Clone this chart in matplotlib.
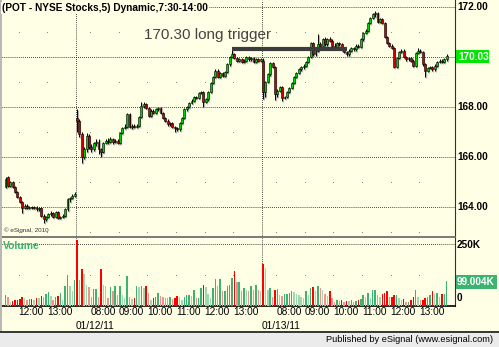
import numpy as np
import matplotlib
matplotlib.use('Agg')
import matplotlib.pyplot as plt
from matplotlib.patches import Rectangle

plt.rc('font', family='Liberation Sans')

# 5 minute bars, 11:30-14:00 on 01/11, full sessions 7:30-14:00 on 01/12 and 01/13
d1_open = [164.80, 165.20, 164.85, 165.00, 164.80, 164.60, 164.40, 164.20, 163.95, 164.05,
           163.95, 164.00, 163.95, 164.00, 163.90, 163.95, 163.65, 163.50, 163.60, 163.70,
           163.75, 163.60, 163.80, 163.55, 163.60, 163.65, 163.90, 164.30, 164.35, 164.45]
d1_high = [165.20, 165.25, 165.05, 165.05, 164.85, 164.65, 164.45, 164.25, 164.10, 164.10,
           164.05, 164.05, 164.05, 164.05, 164.00, 164.00, 163.70, 163.65, 163.75, 163.85,
           163.80, 163.85, 163.85, 163.65, 163.70, 163.95, 164.35, 164.40, 164.50, 164.60]
d1_low = [164.75, 164.80, 164.80, 164.75, 164.55, 164.35, 164.15, 163.75, 163.90, 163.90,
          163.90, 163.90, 163.90, 163.85, 163.85, 163.60, 163.35, 163.45, 163.55, 163.65,
          163.55, 163.55, 163.50, 163.50, 163.55, 163.60, 163.85, 164.20, 164.30, 164.40]
d1_close = [165.10, 164.85, 165.00, 164.80, 164.60, 164.40, 164.20, 163.95, 164.05, 163.95,
            164.00, 163.95, 164.00, 163.90, 163.95, 163.65, 163.50, 163.60, 163.70, 163.75,
            163.60, 163.80, 163.55, 163.60, 163.65, 163.90, 164.30, 164.35, 164.45, 164.50]

d2_open = [167.55, 167.45, 166.90, 166.00, 166.30, 166.85, 166.40, 166.30, 166.55, 166.60,
           166.30, 166.20, 166.55, 166.65, 166.60, 166.70, 166.60, 166.65, 166.55, 166.95,
           167.15, 167.20, 167.70, 167.20, 167.25, 167.20, 167.25, 167.60, 168.05, 168.10,
           167.95, 167.65, 167.85, 167.75, 167.90, 167.95, 167.75, 167.55, 167.45, 167.30,
           167.35, 167.20, 167.15, 167.10, 167.35, 167.55, 167.90, 168.00, 168.15, 168.25,
           168.40, 168.35, 168.55, 168.60, 168.20, 168.30, 168.60, 168.95, 169.20, 169.45,
           169.20, 169.35, 169.25, 169.40, 169.70, 170.00, 170.10, 169.95, 169.85, 169.90,
           169.80, 169.85, 170.00, 169.90, 169.95, 169.80, 169.90, 169.85]
d2_high = [167.90, 167.50, 167.00, 166.40, 166.95, 166.90, 166.50, 166.60, 166.70, 166.70,
           166.35, 166.60, 166.70, 166.75, 166.80, 166.75, 166.70, 166.70, 167.00, 167.20,
           167.30, 167.75, 167.75, 167.30, 167.30, 167.30, 167.65, 168.20, 168.20, 168.15,
           168.00, 167.90, 167.90, 167.95, 168.00, 168.00, 167.80, 167.60, 167.50, 167.40,
           167.40, 167.25, 167.20, 167.40, 167.60, 167.95, 168.05, 168.20, 168.30, 168.45,
           168.45, 168.60, 168.65, 168.65, 168.35, 168.65, 169.00, 169.25, 169.50, 169.50,
           169.40, 169.40, 169.45, 169.75, 170.05, 170.27, 170.15, 170.00, 169.95, 169.95,
           169.90, 170.05, 170.05, 170.00, 170.00, 169.95, 169.95, 169.95]
d2_low = [167.00, 166.80, 165.75, 165.90, 166.20, 166.30, 166.20, 166.25, 166.45, 166.10,
          166.00, 166.15, 166.50, 166.50, 166.55, 166.50, 166.55, 166.50, 166.50, 166.90,
          167.10, 167.15, 167.15, 167.10, 167.15, 167.15, 167.20, 167.55, 167.95, 167.90,
          167.60, 167.60, 167.70, 167.70, 167.85, 167.70, 167.50, 167.40, 167.25, 167.25,
          167.15, 167.00, 167.05, 167.05, 167.30, 167.50, 167.85, 167.95, 168.10, 168.20,
          168.30, 168.30, 168.50, 168.00, 168.15, 168.25, 168.55, 168.90, 169.15, 169.15,
          169.15, 169.20, 169.20, 169.35, 169.65, 169.95, 169.90, 169.80, 169.80, 169.75,
          169.75, 169.80, 169.85, 169.85, 169.75, 169.75, 169.80, 169.80]
d2_close = [167.45, 166.90, 166.00, 166.30, 166.85, 166.40, 166.30, 166.55, 166.60, 166.30,
            166.20, 166.55, 166.65, 166.60, 166.70, 166.60, 166.65, 166.55, 166.95, 167.15,
            167.20, 167.70, 167.20, 167.25, 167.20, 167.25, 167.60, 168.05, 168.10, 167.95,
            167.65, 167.85, 167.75, 167.90, 167.95, 167.75, 167.55, 167.45, 167.30, 167.35,
            167.20, 167.15, 167.10, 167.35, 167.55, 167.90, 168.00, 168.15, 168.25, 168.40,
            168.35, 168.55, 168.60, 168.20, 168.30, 168.60, 168.95, 169.20, 169.45, 169.20,
            169.35, 169.25, 169.40, 169.70, 170.00, 170.10, 169.95, 169.85, 169.90, 169.80,
            169.85, 170.00, 169.90, 169.95, 169.80, 169.90, 169.85, 169.90]

d3_open = [169.85, 168.60, 169.00, 169.30, 169.75, 169.60, 168.50, 168.65, 168.80, 168.35,
           168.40, 168.60, 168.75, 168.95, 169.20, 169.35, 169.50, 169.60, 169.65, 169.80,
           170.00, 170.55, 170.10, 170.25, 170.50, 170.45, 170.70, 170.50, 170.70, 170.65,
           170.45, 170.40, 170.55, 170.50, 170.30, 170.20, 170.10, 170.25, 170.35, 170.30,
           170.45, 170.40, 170.70, 170.95, 171.05, 171.35, 171.55, 171.70, 171.75, 171.40,
           171.50, 171.35, 170.80, 170.55, 170.45, 170.35, 169.60, 169.95, 170.20, 170.25,
           170.00, 169.90, 169.95, 169.85, 169.65, 170.15, 170.25, 170.20, 169.70, 169.45,
           169.55, 169.60, 169.50, 169.65, 169.80, 169.85, 169.80, 169.90]
d3_high = [169.95, 169.05, 169.35, 169.80, 169.80, 169.65, 168.70, 168.85, 168.85, 168.45,
           168.65, 168.80, 169.00, 169.25, 169.40, 169.55, 169.65, 169.70, 169.85, 170.05,
           170.60, 170.60, 170.30, 170.90, 170.60, 170.75, 170.80, 170.75, 170.80, 170.70,
           170.55, 170.60, 170.60, 170.55, 170.35, 170.25, 170.30, 170.40, 170.40, 170.50,
           170.50, 170.75, 171.00, 171.10, 171.40, 171.60, 171.75, 171.85, 171.80, 171.55,
           171.55, 171.40, 170.85, 170.60, 170.50, 170.40, 170.00, 170.25, 170.30, 170.30,
           170.05, 170.00, 170.00, 169.90, 170.20, 170.35, 170.30, 170.25, 169.75, 169.60,
           169.65, 169.65, 169.70, 169.85, 169.90, 169.90, 169.95, 170.10]
d3_low = [168.30, 168.40, 168.95, 169.25, 169.55, 168.28, 168.40, 168.60, 168.25, 168.30,
          168.35, 168.55, 168.70, 168.90, 169.15, 169.30, 169.45, 169.50, 169.60, 169.75,
          169.95, 170.05, 170.05, 170.20, 170.40, 170.40, 170.45, 170.45, 170.60, 170.40,
          170.35, 170.35, 170.45, 170.25, 170.15, 170.05, 170.05, 170.20, 170.25, 170.25,
          170.35, 170.35, 170.65, 170.90, 171.00, 171.30, 171.50, 171.60, 171.35, 171.35,
          171.30, 170.75, 170.50, 170.40, 170.30, 169.55, 169.55, 169.90, 170.15, 169.95,
          169.85, 169.85, 169.80, 169.60, 169.60, 170.10, 170.15, 169.65, 169.20, 169.40,
          169.50, 169.45, 169.45, 169.60, 169.75, 169.75, 169.75, 169.85]
d3_close = [168.60, 169.00, 169.30, 169.75, 169.60, 168.50, 168.65, 168.80, 168.35, 168.40,
            168.60, 168.75, 168.95, 169.20, 169.35, 169.50, 169.60, 169.65, 169.80, 170.00,
            170.55, 170.10, 170.25, 170.50, 170.45, 170.70, 170.50, 170.70, 170.65, 170.45,
            170.40, 170.55, 170.50, 170.30, 170.20, 170.10, 170.25, 170.35, 170.30, 170.45,
            170.40, 170.70, 170.95, 171.05, 171.35, 171.55, 171.70, 171.75, 171.40, 171.50,
            171.35, 170.80, 170.55, 170.45, 170.35, 169.60, 169.95, 170.20, 170.25, 170.00,
            169.90, 169.95, 169.85, 169.65, 170.15, 170.25, 170.20, 169.70, 169.45, 169.55,
            169.60, 169.50, 169.65, 169.80, 169.85, 169.80, 169.90, 170.03]

# volume in thousands
d1_vol = [45, 38, 18, 20, 23, 25, 29, 38, 31, 25, 27, 29, 25, 34, 31, 42, 38, 48, 55, 42,
          25, 38, 42, 52, 25, 80, 123, 80, 59, 103]
d2_vol = [264, 103, 148, 130, 86, 77, 36, 70, 70, 38, 148, 86, 79, 32, 75, 59, 80, 45, 79, 45,
          32, 121, 38, 29, 33, 79, 75, 79, 73, 79, 52, 25, 34, 36, 52, 41, 38, 34, 32, 38,
          29, 32, 41, 37, 25, 38, 45, 45, 42, 66, 32, 34, 73, 86, 75, 48, 32, 73, 110, 79,
          107, 59, 59, 79, 86, 114, 141, 96, 96, 59, 73, 66, 59, 79, 66, 86, 66, 60]
d3_vol = [168, 155, 66, 73, 38, 66, 68, 45, 42, 48, 48, 52, 59, 56, 49, 45, 38, 34, 62, 45,
          73, 75, 60, 79, 73, 66, 48, 42, 59, 32, 18, 25, 20, 25, 18, 22, 20, 25, 18, 22,
          25, 30, 45, 38, 52, 32, 66, 66, 45, 38, 48, 52, 62, 38, 38, 45, 45, 32, 25, 27,
          18, 18, 25, 38, 66, 38, 25, 25, 32, 38, 45, 59, 49, 52, 38, 48, 48, 99.004]

hour_pos = [6, 18, 36, 48, 60, 72, 84, 96, 114, 126, 138, 150, 162, 174]
hour_lbl = ['12:00', '13:00', '08:00', '09:00', '10:00', '11:00', '12:00', '13:00',
            '08:00', '09:00', '10:00', '11:00', '12:00', '13:00']
day_pos = [30, 108]
day_lbl = ['01/12/11', '01/13/11']
price_ticks = [172, 170, 168, 166, 164]
last_price = 170.03
trigger = 170.30
trigger_from, trigger_to = 95, 143

o = np.array(d1_open + d2_open + d3_open)
h = np.array(d1_high + d2_high + d3_high)
l = np.array(d1_low + d2_low + d3_low)
c = np.array(d1_close + d2_close + d3_close)
v = np.array(d1_vol + d2_vol + d3_vol)
x = np.arange(len(c))

W, H = 499, 347
cream = '#FFFFE6'
fig = plt.figure(figsize=(W / 100, H / 100), dpi=100, facecolor=cream)

def fx(px):
    return px / W

def fy(py):
    return 1 - py / H

ax = fig.add_axes([fx(2), fy(237), fx(453), 237 / H], facecolor=cream)
axv = fig.add_axes([fx(2), fy(306), fx(453), 68 / H], facecolor=cream)
xlim = (-1.47, 188.5)

dot = (0, (0.7, 1.4))
for p in price_ticks:
    ax.axhline(p, color='black', lw=0.7, ls=dot, zorder=1)
for p in [171, 169, 167, 165, 163]:
    ax.plot(np.array(hour_pos) - 0.5, [p] * len(hour_pos), 's', ms=0.55, mew=0,
            color='#707070', zorder=1)
for d in day_pos:
    ax.axvline(d - 0.5, color='black', lw=0.7, ls=dot, zorder=1)
    axv.axvline(d - 0.5, color='black', lw=0.7, ls=dot, zorder=1)

# candles with soft drop shadow
up = c >= o
body_lo = np.minimum(o, c)
body_h = np.maximum(np.abs(c - o), 0.02)
sx, sy = 0.42, 0.04
ax.vlines(x + sx, l - sy, h - sy, color='#B4B4B4', lw=0.9, zorder=2)
ax.bar(x + sx, body_h, bottom=body_lo - sy, width=0.8, color='#B4B4B4', lw=0, zorder=2)
ax.vlines(x, l, h, color='black', lw=0.7, zorder=3)
ax.bar(x, body_h, bottom=body_lo, width=0.8, color=np.where(up, '#00D000', '#D00000'),
       edgecolor='black', lw=0.4, zorder=4)

ax.hlines(trigger, trigger_from, trigger_to, color='#3C3C3C', lw=3, zorder=5)
ax.text(58, 170.88, '170.30 long trigger', fontsize=11, color='#444444', va='center', ha='left')

ax.set_xlim(*xlim)
ax.set_ylim(162.8, 172.28)

# volume
prev = np.concatenate([[v[0]], v[:-1]])
vcol = np.where(up, np.where(v >= prev, '#3CB371', '#9ED8AE'),
                np.where(v >= prev, '#FF0000', '#F49090'))
axv.axhline(250, color='black', lw=0.7, ls=dot, zorder=1)
axv.plot(np.array(hour_pos) - 0.5, [125] * len(hour_pos), 's', ms=0.55, mew=0, color='#707070')
axv.bar(x, v, width=0.6, color=vcol, lw=0, zorder=3)
axv.set_xlim(*xlim)
axv.set_ylim(0, 274)

for a in (ax, axv):
    a.set_xticks([])
    a.set_yticks([])
    a.spines['top'].set_visible(False)
    a.spines['left'].set_visible(False)
    a.spines['right'].set_color('#303030')
ax.spines['bottom'].set_color('#707070')
ax.spines['bottom'].set_linewidth(1.3)
axv.spines['bottom'].set_color('black')
axv.spines['bottom'].set_linewidth(1.2)

# right scale
for p in price_ticks:
    ax.text(fx(457 - 2) / fx(453), p, '%.2f' % p, transform=ax.get_yaxis_transform(),
            fontsize=7.2, fontweight='bold', va='center', ha='left')
fig.patches.append(Rectangle((fx(456), fy(63)), fx(33), 13 / H, transform=fig.transFigure,
                             facecolor='#00E600', lw=0))
fig.text(fx(458), fy(56.5), '%.2f' % last_price, fontsize=7.2, fontweight='bold',
         color='white', va='center')
fig.text(fx(457), fy(245), '250K', fontsize=7.2, fontweight='bold', va='center')
fig.text(fx(457), fy(298), '0', fontsize=7.2, fontweight='bold', va='center')
fig.patches.append(Rectangle((fx(456), fy(289)), fx(41), 14 / H, transform=fig.transFigure,
                             facecolor='#3CB371', lw=0))
fig.text(fx(457), fy(282), '%.3fK' % v[-1], fontsize=7.2, fontweight='bold',
         color='white', va='center')

# time axis
for pos, lab in zip(hour_pos, hour_lbl):
    axv.text(pos - 0.5, -0.09, lab, transform=axv.get_xaxis_transform(),
             fontsize=7.3, va='center', ha='left')
for pos, lab in zip(day_pos, day_lbl):
    axv.text(pos - 0.5, -0.295, lab, transform=axv.get_xaxis_transform(),
             fontsize=7.3, va='center', ha='left')

fig.text(fx(2), fy(8), '(POT - NYSE Stocks,5) Dynamic,7:30-14:00', fontsize=7.3,
         fontweight='bold', va='center', ha='left',
         bbox=dict(facecolor=cream, edgecolor='none', pad=1))
fig.text(fx(3), fy(246), 'Volume', fontsize=7.4, fontweight='bold', color='#3CB371', va='center')
fig.text(fx(4), fy(230), '\u00a9 eSignal, 2010', fontsize=4.5, color='#333333', va='center')

# frame and status bar
fig.patches.append(Rectangle((0, fy(332)), fx(2), 332 / H, transform=fig.transFigure,
                             facecolor='#B8B8B8', lw=0))
fig.patches.append(Rectangle((0, 0), 1, 14 / H, transform=fig.transFigure,
                             facecolor='#EBEBEB', lw=0))
fig.patches.append(Rectangle((0, fy(333)), 1, 1.6 / H, transform=fig.transFigure,
                             facecolor='#3A3A3A', lw=0))
fig.text(fx(493), fy(340), 'Published by eSignal (www.esignal.com)', fontsize=6.7,
         va='center', ha='right')

fig.savefig('out.png', dpi=100, facecolor=cream)
